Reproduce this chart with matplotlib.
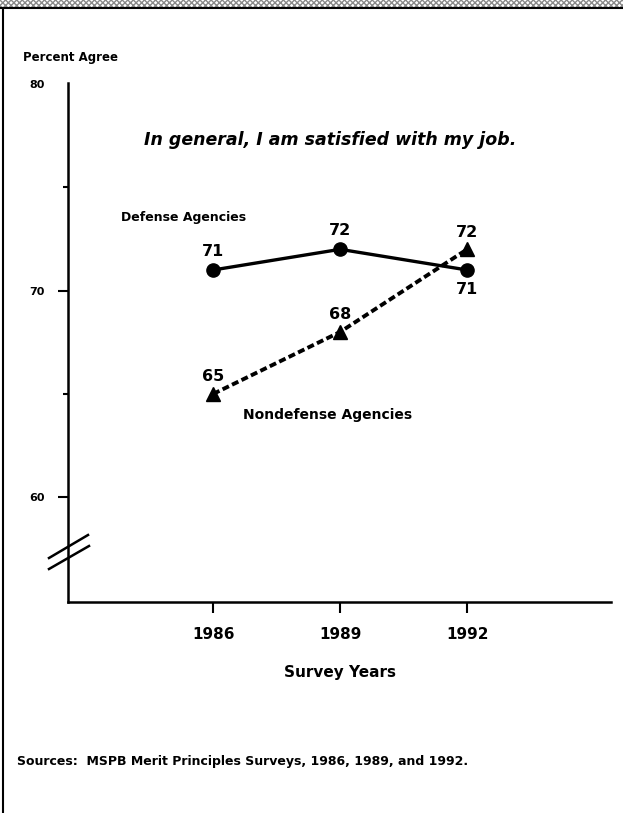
import matplotlib
matplotlib.use("Agg")
import matplotlib.pyplot as plt
from matplotlib.patches import Rectangle
from matplotlib.lines import Line2D

years = [1986, 1989, 1992]
defense = [71, 72, 71]
nondefense = [65, 68, 72]
yticks = [60, 70, 80]
ytick_labels = ["60", "70", "80"]
yminor = [65, 75]

plt.rcParams['font.family'] = ['DejaVu Sans']

W, H = 623, 813
fig = plt.figure(figsize=(W / 100, H / 100), dpi=100)

def fx(px):
    return px / W

def fy(py):
    return 1 - py / H

# Page frame: halftone strip at top, rule below it, left border
fig.add_artist(Rectangle((0, fy(7)), 1, 7 / H, transform=fig.transFigure,
                         facecolor='white', edgecolor='#888888', hatch='xxxxxx',
                         linewidth=0))
fig.add_artist(Line2D([0, 1], [fy(8), fy(8)], transform=fig.transFigure,
                      color='black', linewidth=1.5))
fig.add_artist(Line2D([fx(3), fx(3)], [fy(8), 0], transform=fig.transFigure,
                      color='black', linewidth=1.5))

ax = fig.add_axes([fx(68), fy(602), fx(611) - fx(68), fy(83) - fy(602)])
ax.set_xlim(1982.57, 1995.4)
ax.set_ylim(54.93, 80.05)

ax.plot(years, defense, color='black', linewidth=2.4, marker='o',
        markersize=9.5)
ax.plot(years, nondefense, color='black', linewidth=2.8, linestyle=(0, (1.8, 0.9)),
        marker='^', markersize=10)

for s in ['top', 'right']:
    ax.spines[s].set_visible(False)
for s in ['left', 'bottom']:
    ax.spines[s].set_linewidth(1.8)

ax.set_xticks(years)
ax.set_xticklabels([str(y) for y in years], fontsize=11, fontweight='bold')
ax.set_yticks(yticks)
ax.set_yticklabels(ytick_labels, fontsize=8, fontweight='bold')
ax.set_yticks(yminor, minor=True)
ax.tick_params(axis='x', direction='out', length=8, width=1.5, pad=10)
ax.tick_params(axis='y', which='major', direction='out', length=7.5, width=1.5, pad=9)
ax.tick_params(axis='y', which='minor', direction='out', length=3.6, width=1.5)
ax.yaxis.get_major_ticks()[-1].tick1line.set_visible(False)

# Point labels
lbl = dict(fontsize=11.5, fontweight='bold', ha='center')
ax.annotate(str(defense[0]), (years[0], defense[0]), xytext=(0, 8),
            textcoords='offset points', va='bottom', **lbl)
ax.annotate(str(defense[1]), (years[1], defense[1]), xytext=(0, 8),
            textcoords='offset points', va='bottom', **lbl)
ax.annotate(str(defense[2]), (years[2], defense[2]), xytext=(0, -9),
            textcoords='offset points', va='top', **lbl)
ax.annotate(str(nondefense[0]), (years[0], nondefense[0]), xytext=(0, 7),
            textcoords='offset points', va='bottom', **lbl)
ax.annotate(str(nondefense[1]), (years[1], nondefense[1]), xytext=(0, 7),
            textcoords='offset points', va='bottom', **lbl)
ax.annotate(str(nondefense[2]), (years[2], nondefense[2]), xytext=(0, 7),
            textcoords='offset points', va='bottom', **lbl)

# Text
fig.text(fx(330), fy(145), "In general, I am satisfied with my job.",
         ha='center', va='baseline', fontsize=12.5, fontweight='bold', style='italic')
fig.text(fx(121), fy(217), "Defense Agencies", ha='left', va='center',
         fontsize=9, fontweight='bold')
fig.text(fx(243), fy(415), "Nondefense Agencies", ha='left', va='center',
         fontsize=10, fontweight='bold')
fig.text(fx(23), fy(58), "Percent Agree", ha='left', va='center',
         fontsize=8.5, fontweight='bold')
fig.text(fx(340), fy(672), "Survey Years", ha='center', va='center',
         fontsize=11, fontweight='bold')
fig.text(fx(17), fy(761), "Sources:  MSPB Merit Principles Surveys, 1986, 1989, and 1992.",
         ha='left', va='center', fontsize=9, fontweight='bold')

# Axis break marks
for (x0, y0, x1, y1) in [(49, 558, 88, 535), (49, 569, 89, 546)]:
    fig.add_artist(Line2D([fx(x0), fx(x1)], [fy(y0), fy(y1)],
                          transform=fig.transFigure, color='black', linewidth=1.8))

fig.savefig("out.png", dpi=100, facecolor='white')
